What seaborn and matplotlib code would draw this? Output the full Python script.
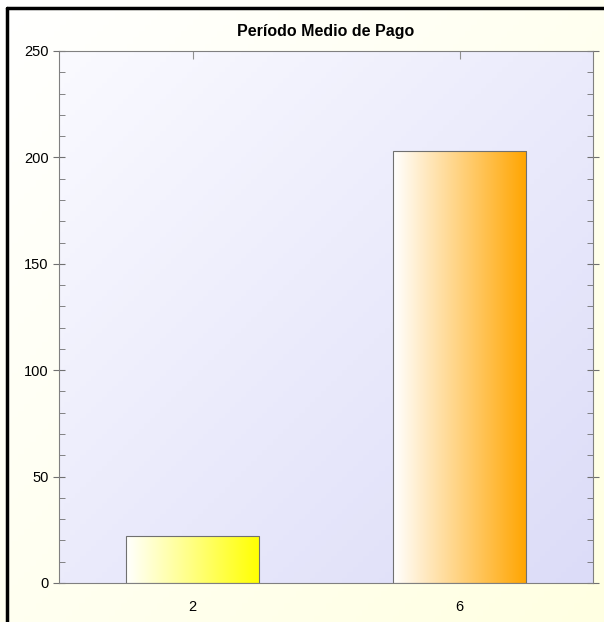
import numpy as np
import pandas as pd
import seaborn as sns
import matplotlib.pyplot as plt
from matplotlib.colors import LinearSegmentedColormap
from matplotlib.lines import Line2D
from matplotlib.ticker import MultipleLocator

categorias = ["2", "6"]
valores = [22, 203]
colores = ["#FFFF00", "#FFA500"]

df = pd.DataFrame({"cat": categorias, "val": valores})

sns.set_style("ticks")
plt.rcParams['font.family'] = ['Liberation Sans', 'DejaVu Sans']

fig = plt.figure(figsize=(6.04, 6.22), dpi=100)
fig.patch.set_facecolor("#FFFFF0")

# fondo de la figura con degradado
bg = fig.add_axes([0, 0, 1, 1], zorder=-10)
yy, xx = np.mgrid[0:1:100j, 0:1:100j]
bg.imshow((xx + (1 - yy)) / 2, cmap=LinearSegmentedColormap.from_list("f", ["#FFFFFF", "#FFFFE2"]),
          extent=[0, 1, 0, 1], aspect="auto", origin="lower")
bg.axis("off")

ax = fig.add_axes([59/604, 1-583/622, 534/604, 532/622])
sns.barplot(data=df, x="cat", y="val", ax=ax, width=0.5, edgecolor="#707070", linewidth=0.8)

# fondo azulado del area de trazado
ax.set_facecolor("none")
g = (xx + yy) / 2
ax.imshow(g, cmap=LinearSegmentedColormap.from_list("a", ["#FAFAFF", "#DCDCF8"]),
          extent=[0, 1, 0, 1], transform=ax.transAxes, aspect="auto", zorder=0, origin="upper")

# barras con degradado horizontal
for bar, c in zip(ax.patches, colores):
    x0, y0 = bar.get_x(), bar.get_y()
    w, h = bar.get_width(), bar.get_height()
    cmap = LinearSegmentedColormap.from_list("b", ["#FFFFFF", c])
    ax.imshow(np.linspace(0, 1, 256).reshape(1, -1), cmap=cmap,
              extent=[x0, x0 + w, y0, y0 + h], aspect="auto", zorder=2)
    bar.set_facecolor("none")
    bar.set_zorder(3)

ax.set_xlim(-0.5, 1.5)
ax.set_ylim(0, 250)

ax.set_xlabel("")
ax.set_ylabel("")
ax.set_title("Período Medio de Pago", fontsize=11.5, fontweight="bold", pad=11, color="black")

for s in ax.spines.values():
    s.set_color("#808080")
    s.set_linewidth(0.8)

ax.yaxis.set_major_locator(MultipleLocator(50))
ax.yaxis.set_minor_locator(MultipleLocator(10))
ax.tick_params(axis="y", which="major", direction="inout", length=9, color="#707070",
               labelsize=10.5, labelcolor="black", right=True, left=True, pad=3)
ax.tick_params(axis="y", which="minor", direction="in", length=4, color="#707070", right=True, left=True)
ax.tick_params(axis="x", which="major", direction="in", length=6, color="#909090",
               labelsize=10.5, labelcolor="black", top=True, pad=12)

# marco negro
fig.add_artist(Line2D([7.5/604, 7.5/604], [0, 1-7.5/622], color="black", lw=2.5))
fig.add_artist(Line2D([7.5/604, 1], [1-7.5/622, 1-7.5/622], color="black", lw=2.5))

fig.savefig("out.png", dpi=100, facecolor=fig.get_facecolor())
